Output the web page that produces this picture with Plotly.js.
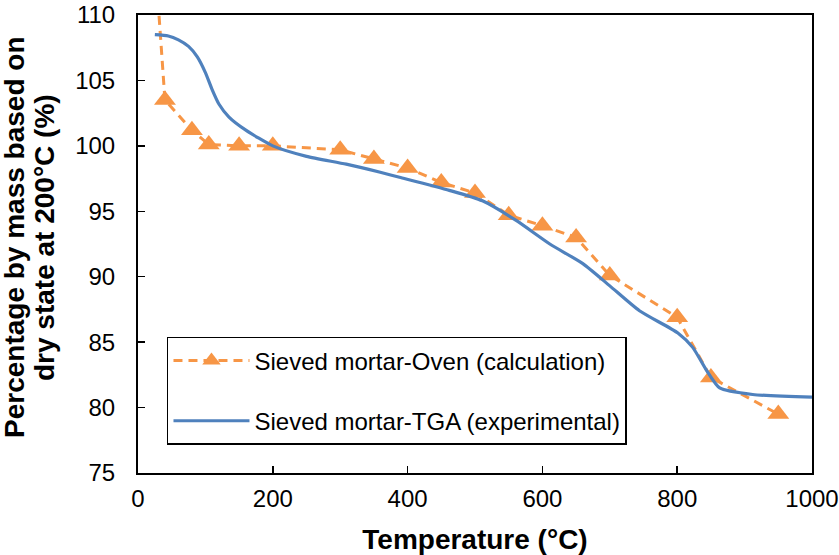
<!DOCTYPE html>
<html>
<head>
<meta charset="utf-8">
<script src="https://cdn.plot.ly/plotly-3.0.1.min.js"></script>
<style>html,body{margin:0;padding:0;background:#fff;}#chart{width:839px;height:555px;}</style>
</head>
<body>
<div id="chart"></div>
<script>
// Sieved mortar - Oven (calculation)
const ovenTemp = [25, 40, 80, 105, 150, 200, 300, 350, 400, 450, 500, 550, 600, 650, 700, 800, 850, 950];
const ovenMass = [114.5, 103.5, 101.2, 100.1, 100.0, 100.0, 99.7, 99.0, 98.3, 97.2, 96.4, 94.7, 93.9, 93.0, 90.1, 86.9, 82.3, 79.5];

// Sieved mortar - TGA (experimental)
const tgaTemp = [25, 45, 60, 75, 88, 100, 110, 120, 135, 160, 200, 250, 309, 358, 388, 462, 511, 561, 611, 660, 700, 744, 801, 823, 844, 863, 912, 1000];
const tgaMass = [108.5, 108.4, 108.1, 107.6, 106.8, 105.6, 104.3, 103.2, 102.2, 101.2, 100.0, 99.2, 98.6, 98.0, 97.6, 96.6, 95.8, 94.3, 92.5, 91.0, 89.3, 87.4, 85.7, 84.6, 82.8, 81.5, 81.0, 80.8];

const xTicks = [0, 200, 400, 600, 800, 1000];
const yTicks = [75, 80, 85, 90, 95, 100, 105, 110];

const yTitleLines = ['Percentage by mass based on', 'dry state at 200°C (%)'];

const FONT = 'Liberation Sans, Arial, sans-serif';

const traces = [
  {
    x: ovenTemp, y: ovenMass, type: 'scatter', mode: 'lines+markers',
    name: 'Sieved mortar-Oven (calculation)', legendgroup: 'a',
    line: {color: '#F79646', width: 3, dash: '9px,6px'},
    marker: {symbol: 'triangle-up', size: 19, color: '#F79646'},
    cliponaxis: true
  },
  {
    x: tgaTemp, y: tgaMass, type: 'scatter', mode: 'lines',
    name: 'Sieved mortar-TGA (experimental)', legendgroup: 'b',
    line: {color: '#4F81BD', width: 3.2, shape: 'spline', smoothing: 0.6}
  }
];

const PL = 138, PW = 839 - 138 - 27, PT = 15, PH = 555 - 15 - 82;
const yTitleX = [14, 44];
const annotations = yTitleLines.map((t, i) => ({
  text: '<b>' + t + '</b>', textangle: -90,
  xref: 'paper', yref: 'paper',
  x: (yTitleX[i] - PL) / PW, y: (555 - 82 - 237) / PH,
  xanchor: 'center', yanchor: 'middle', showarrow: false,
  font: {family: FONT, size: 28, color: '#000'}
}));

const layout = {
  width: 839, height: 555,
  margin: {l: PL, r: 27, t: PT, b: 82},
  paper_bgcolor: '#fff', plot_bgcolor: '#fff',
  font: {family: FONT, color: '#000', size: 24},
  showlegend: true,
  legend: {
    x: 0.043, y: 0.297, xanchor: 'left', yanchor: 'top',
    bgcolor: '#fff', bordercolor: '#000', borderwidth: 1.5,
    font: {family: FONT, size: 24, color: '#000'},
    traceorder: 'grouped', tracegroupgap: 26, itemwidth: 76
  },
  annotations: annotations,
  xaxis: {
    range: [0, 1000], tickvals: xTicks, ticktext: xTicks.map(String),
    showgrid: false, zeroline: false,
    showline: true, linecolor: '#000', linewidth: 2, mirror: true,
    ticks: 'inside', ticklen: 7, tickwidth: 1.5, tickcolor: '#000',
    ticklabelstandoff: 3,
    tickfont: {family: FONT, size: 24, color: '#000'},
    title: {text: '<b>Temperature (°C)</b>', font: {family: FONT, size: 28, color: '#000'}, standoff: 19}
  },
  yaxis: {
    range: [75, 110], tickvals: yTicks, ticktext: yTicks.map(String),
    showgrid: false, zeroline: false,
    showline: true, linecolor: '#000', linewidth: 2, mirror: true,
    ticks: 'inside', ticklen: 7, tickwidth: 1.5, tickcolor: '#000',
    ticklabelstandoff: 16,
    tickfont: {family: FONT, size: 24, color: '#000'}
  }
};

Plotly.newPlot('chart', traces, layout, {staticPlot: true, displayModeBar: false});
</script>
</body>
</html>
